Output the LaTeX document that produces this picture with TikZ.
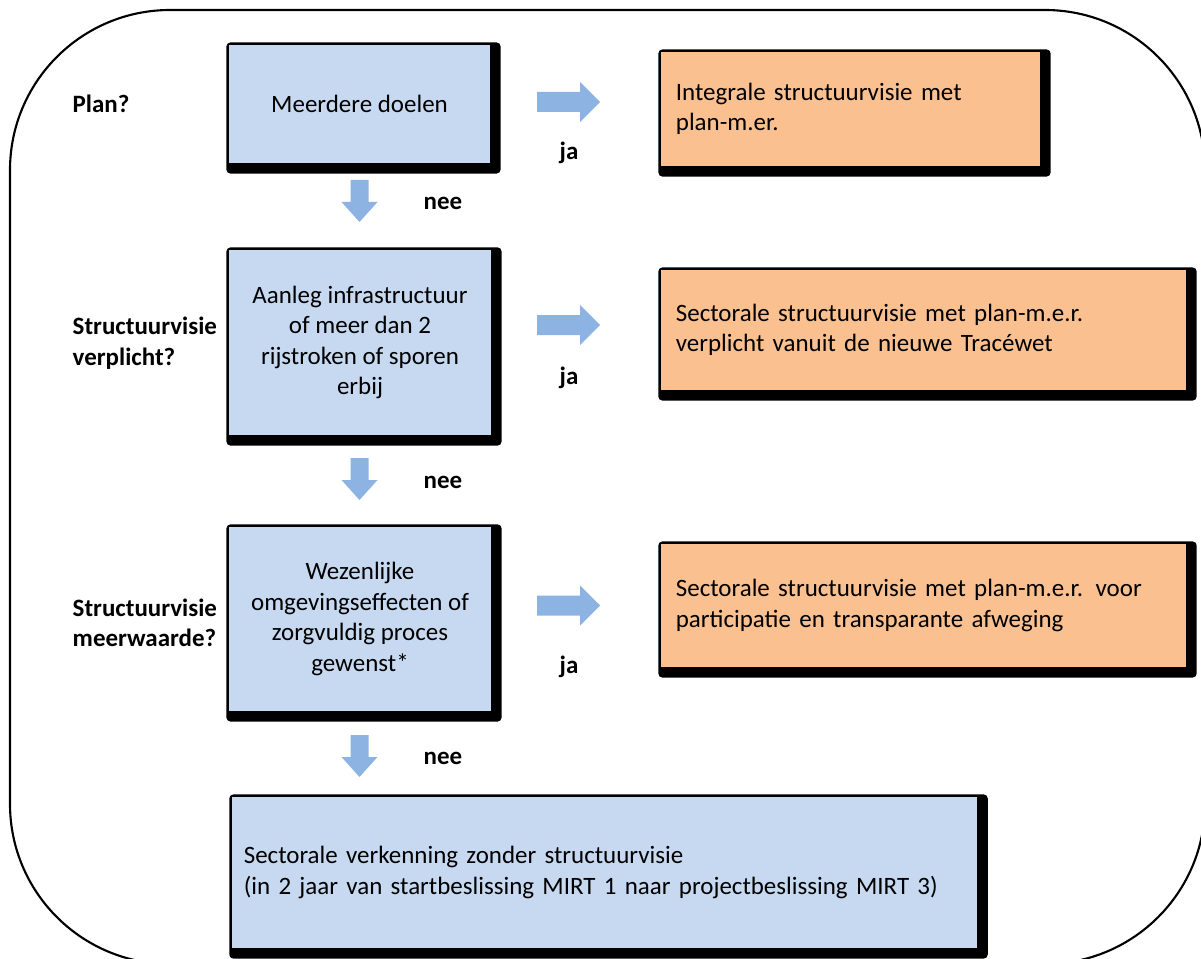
\documentclass[tikz,border=0pt]{standalone}
\usepackage{fontspec}
\setmainfont{Carlito}
\usetikzlibrary{calc,backgrounds}
\definecolor{boxblue}{HTML}{C6D9F1}
\definecolor{boxorange}{HTML}{FAC090}
\definecolor{arrowblue}{HTML}{8DB3E2}
\tikzset{
  base/.style={font=\fontsize{7.1pt}{8.7pt}\selectfont, inner sep=0pt},
  bluebox/.style={base, fill=boxblue, draw=black, line width=0.3pt, align=center},
  orangebox/.style={base, fill=boxorange, draw=black, line width=0.3pt, align=left, inner xsep=0.15cm},
  question/.style={base, font=\fontsize{7.1pt}{8.7pt}\selectfont\bfseries, align=left, anchor=west},
  answer/.style={base, font=\fontsize{7.1pt}{8.7pt}\selectfont\bfseries},
  rarrow/.pic={\fill[arrowblue] (0,-10) -- (43,-10) -- (43,-20) -- (63,0) -- (43,20) -- (43,10) -- (0,10) -- cycle;},
  darrow/.pic={\fill[arrowblue] (-9,0) -- (9,0) -- (9,22) -- (18,22) -- (0,42) -- (-18,22) -- (-9,22) -- cycle;}
}
\newcommand{\shadowframe}[1]{%
  \fill[black, rounded corners=0.04cm] ($(#1.north west)+(-2,-2)$) rectangle ($(#1.south east)+(10,10)$);}
\begin{document}
\begin{tikzpicture}[x=0.01cm,y=-0.01cm]
\useasboundingbox (0,0) rectangle (1201,958);
\begin{scope}
\clip (0,0) rectangle (1201,958);
\draw[line width=0.6pt, rounded corners=1.6cm] (10,10) rectangle (1205,964);
\end{scope}

% question labels
\node[question] (q1) at (72,104) {Plan?};
\node[question] (q2) at (72,343) {Structuurvisie\\verplicht?};
\node[question] (q3) at (72,623) {Structuurvisie\\meerwaarde?};

% blue decision boxes
\node[bluebox, minimum width=2.61cm, minimum height=1.18cm] (b1) at (359.5,104) {Meerdere doelen};
\node[bluebox, minimum width=2.62cm, minimum height=1.85cm] (b2) at (360,342.5) {Aanleg infrastructuur\\of meer dan 2\\rijstroken of sporen\\erbij};
\node[bluebox, minimum width=2.62cm, minimum height=1.84cm] (b3) at (360,619) {Wezenlijke\\omgevingseffecten of\\zorgvuldig proces\\gewenst*};

% orange outcome boxes
\node[orangebox, minimum width=3.79cm, minimum height=1.14cm, text width=3.49cm] (o1) at (850.5,109) {Integrale structuurvisie met\\plan-m.er.};
\node[orangebox, minimum width=5.25cm, minimum height=1.20cm, text width=4.95cm] (o2) at (923.5,330) {Sectorale structuurvisie met plan-m.e.r.\\verplicht vanuit de nieuwe Tracéwet};
\node[orangebox, minimum width=5.25cm, minimum height=1.23cm, text width=4.95cm] (o3) at (923.5,605.5) {Sectorale structuurvisie met plan-m.e.r. voor\\participatie en transparante afweging};

% final box
\node[bluebox, align=left, inner xsep=0.12cm, minimum width=7.45cm, minimum height=1.51cm, text width=7.21cm] (f) at (604.5,872.5) {Sectorale verkenning zonder structuurvisie\\(in 2 jaar van startbeslissing MIRT 1 naar projectbeslissing MIRT 3)};

\begin{scope}[on background layer]
\shadowframe{b1}\shadowframe{b2}\shadowframe{b3}
\shadowframe{o1}\shadowframe{o2}\shadowframe{o3}
\shadowframe{f}
\end{scope}

% arrows
\pic at (537,102) {rarrow};
\pic at (537,325) {rarrow};
\pic at (537,605.5) {rarrow};
\pic at (359.5,180) {darrow};
\pic at (359.5,458) {darrow};
\pic at (359.5,735) {darrow};

% answers
\node[answer] (j1) at (569,153) {ja};
\node[answer] (j2) at (569,378) {ja};
\node[answer] (j3) at (569,667) {ja};
\node[answer] (n1) at (443,203) {nee};
\node[answer] (n2) at (443,482) {nee};
\node[answer] (n3) at (443,758) {nee};
\end{tikzpicture}
\end{document}
